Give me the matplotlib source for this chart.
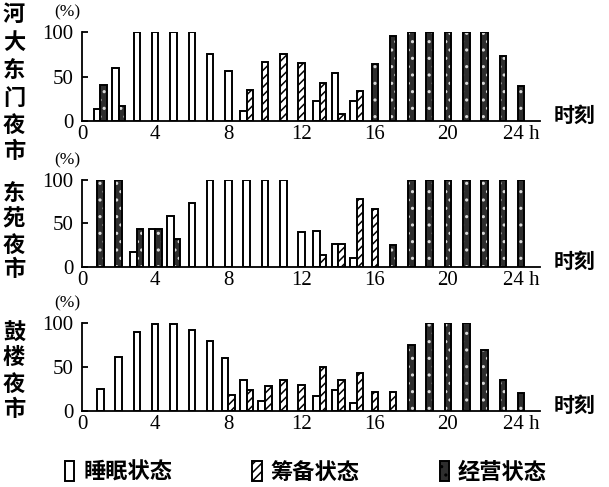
import matplotlib
matplotlib.use("Agg")
import matplotlib.pyplot as plt
from matplotlib.patches import Patch
import numpy as np

hours = list(range(1, 25))

# 河大东门夜市
p1_sleep = [13, 60, 100, 100, 100, 100, 76, 56, 11, 0, 0, 0, 23, 54, 22, 0, 0, 0, 0, 0, 0, 0, 0, 0]
p1_prep = [0, 0, 0, 0, 0, 0, 0, 0, 35, 66, 75, 65, 43, 8, 34, 0, 0, 0, 0, 0, 0, 0, 0, 0]
p1_bus = [41, 17, 0, 0, 0, 0, 0, 0, 0, 0, 0, 0, 0, 0, 0, 64, 96, 100, 100, 100, 100, 100, 73, 40]

# 东苑夜市
p2_sleep = [0, 0, 17, 44, 58, 73, 100, 100, 100, 100, 100, 40, 41, 26, 10, 0, 0, 0, 0, 0, 0, 0, 0, 0]
p2_prep = [0, 0, 0, 0, 0, 0, 0, 0, 0, 0, 0, 0, 14, 26, 78, 67, 0, 0, 0, 0, 0, 0, 0, 0]
p2_bus = [100, 100, 44, 44, 32, 0, 0, 0, 0, 0, 0, 0, 0, 0, 0, 0, 25, 100, 100, 100, 100, 100, 100, 100]

# 鼓楼夜市
p3_sleep = [25, 62, 90, 99, 99, 92, 80, 60, 35, 11, 0, 0, 17, 24, 9, 0, 0, 0, 0, 0, 0, 0, 0, 0]
p3_prep = [0, 0, 0, 0, 0, 0, 0, 18, 24, 28, 35, 30, 50, 35, 43, 22, 22, 0, 0, 0, 0, 0, 0, 0]
p3_bus = [0, 0, 0, 0, 0, 0, 0, 0, 0, 0, 0, 0, 0, 0, 0, 0, 0, 75, 100, 100, 100, 69, 35, 21]

panel_names = ["河大东门夜市", "东苑夜市", "鼓楼夜市"]
xtick_vals = [0, 4, 8, 12, 16, 20, 24]
xtick_labels = ["0", "4", "8", "12", "16", "20", "24 h"]
ytick_vals = [0, 50, 100]
legend_labels = ["睡眠状态", "筹备状态", "经营状态"]

SERIF = "Liberation Serif"
CJK = ["Noto Sans CJK SC", "DejaVu Sans"]
CJK_W = "bold"

W, H = 609, 487
fig = plt.figure(figsize=(W / 100, H / 100), dpi=100)

# (baseline_px, top100_px)
panel_geom = [(121, 32.3), (266.7, 180), (411, 323.3)]
left_px = 82
px_per_hour = 18.3
xmax = 25.0

bw = 0.36
LW = 1.4


def draw_bars(ax, x, vals, kind):
    x = np.asarray(x, dtype=float)
    vals = np.asarray(vals, dtype=float)
    if len(x) == 0:
        return
    if kind == "sleep":
        ax.bar(x, vals, width=bw, facecolor="white", edgecolor="black", linewidth=LW, zorder=3)
    elif kind == "prep":
        ax.bar(x, vals, width=bw, facecolor="white", edgecolor="black", linewidth=LW,
               hatch="////", zorder=3)
    else:
        ax.bar(x, vals, width=bw, facecolor="#2e2e2e", edgecolor="#d8d8d8", linewidth=0,
               hatch="..", zorder=3)
        ax.bar(x, vals, width=bw, fill=False, edgecolor="black", linewidth=LW, zorder=4)


datasets = [(p1_sleep, p1_prep, p1_bus), (p2_sleep, p2_prep, p2_bus), (p3_sleep, p3_prep, p3_bus)]

plt.rcParams["hatch.linewidth"] = 1.1

for i, (sleep, prep, bus) in enumerate(datasets):
    base, top = panel_geom[i]
    h = (base - top) / H
    b = 1 - base / H
    ax = fig.add_axes([left_px / W, b, xmax * px_per_hour / W, h])
    ax.set_xlim(0, xmax)
    ax.set_ylim(0, 100)

    groups = {"sleep": ([], []), "prep": ([], []), "bus": ([], [])}
    for j, hr in enumerate(hours):
        present = [(k, v) for k, v in (("sleep", sleep[j]), ("prep", prep[j]), ("bus", bus[j])) if v > 0]
        if len(present) == 1:
            offs = [0.0]
        else:
            offs = [-bw / 2, bw / 2]
        for (k, v), o in zip(present, offs):
            groups[k][0].append(hr + o)
            groups[k][1].append(v)
    draw_bars(ax, *groups["sleep"], "sleep")
    draw_bars(ax, *groups["prep"], "prep")
    draw_bars(ax, *groups["bus"], "bus")

    for s in ("top", "right"):
        ax.spines[s].set_visible(False)
    ax.spines["left"].set_linewidth(1.3)
    ax.spines["bottom"].set_linewidth(1.3)
    ax.spines["left"].set_bounds(0, 100)
    ax.spines["bottom"].set_zorder(5)

    ax.set_yticks(ytick_vals)
    ax.set_yticklabels([str(v) for v in ytick_vals], fontfamily=SERIF, fontsize=15)
    ax.tick_params(axis="y", direction="in", length=4.5, width=1.3, pad=6)
    ax.set_xticks(xtick_vals)
    ax.set_xticklabels(xtick_labels, fontfamily=SERIF, fontsize=15)
    ax.tick_params(axis="x", length=0, pad=3)

    ax.text(-0.82, 123, "(%)", fontfamily=SERIF, fontsize=12.5, ha="center", va="center",
            clip_on=False)
    ax.text(26.9, 6, "时刻", fontfamily=CJK, fontweight=CJK_W, fontsize=15, ha="center",
            va="center", clip_on=False)

# vertical panel names
name_pos = [[14, 42, 70, 98, 125, 151], [193, 219, 245, 270], [333, 358, 384, 409]]
for name, ys in zip(panel_names, name_pos):
    for ch, y in zip(name, ys):
        fig.text(14 / W, 1 - y / H, ch, fontfamily=CJK, fontweight=CJK_W, fontsize=16,
                 ha="center", va="center")

# legend
handles = [
    Patch(facecolor="white", edgecolor="black", linewidth=LW),
    Patch(facecolor="white", edgecolor="black", linewidth=LW, hatch="////"),
    Patch(facecolor="#2e2e2e", edgecolor="black", linewidth=LW, hatch=".."),
]
leg = fig.legend(handles, legend_labels, loc="center", bbox_to_anchor=(306 / W, 1 - 472 / H),
                 ncol=3, frameon=False, handlelength=0.42, handleheight=1.0, handletextpad=0.4,
                 columnspacing=3.6, prop={"family": CJK, "size": 16, "weight": CJK_W})

fig.savefig("out.png", dpi=100)
